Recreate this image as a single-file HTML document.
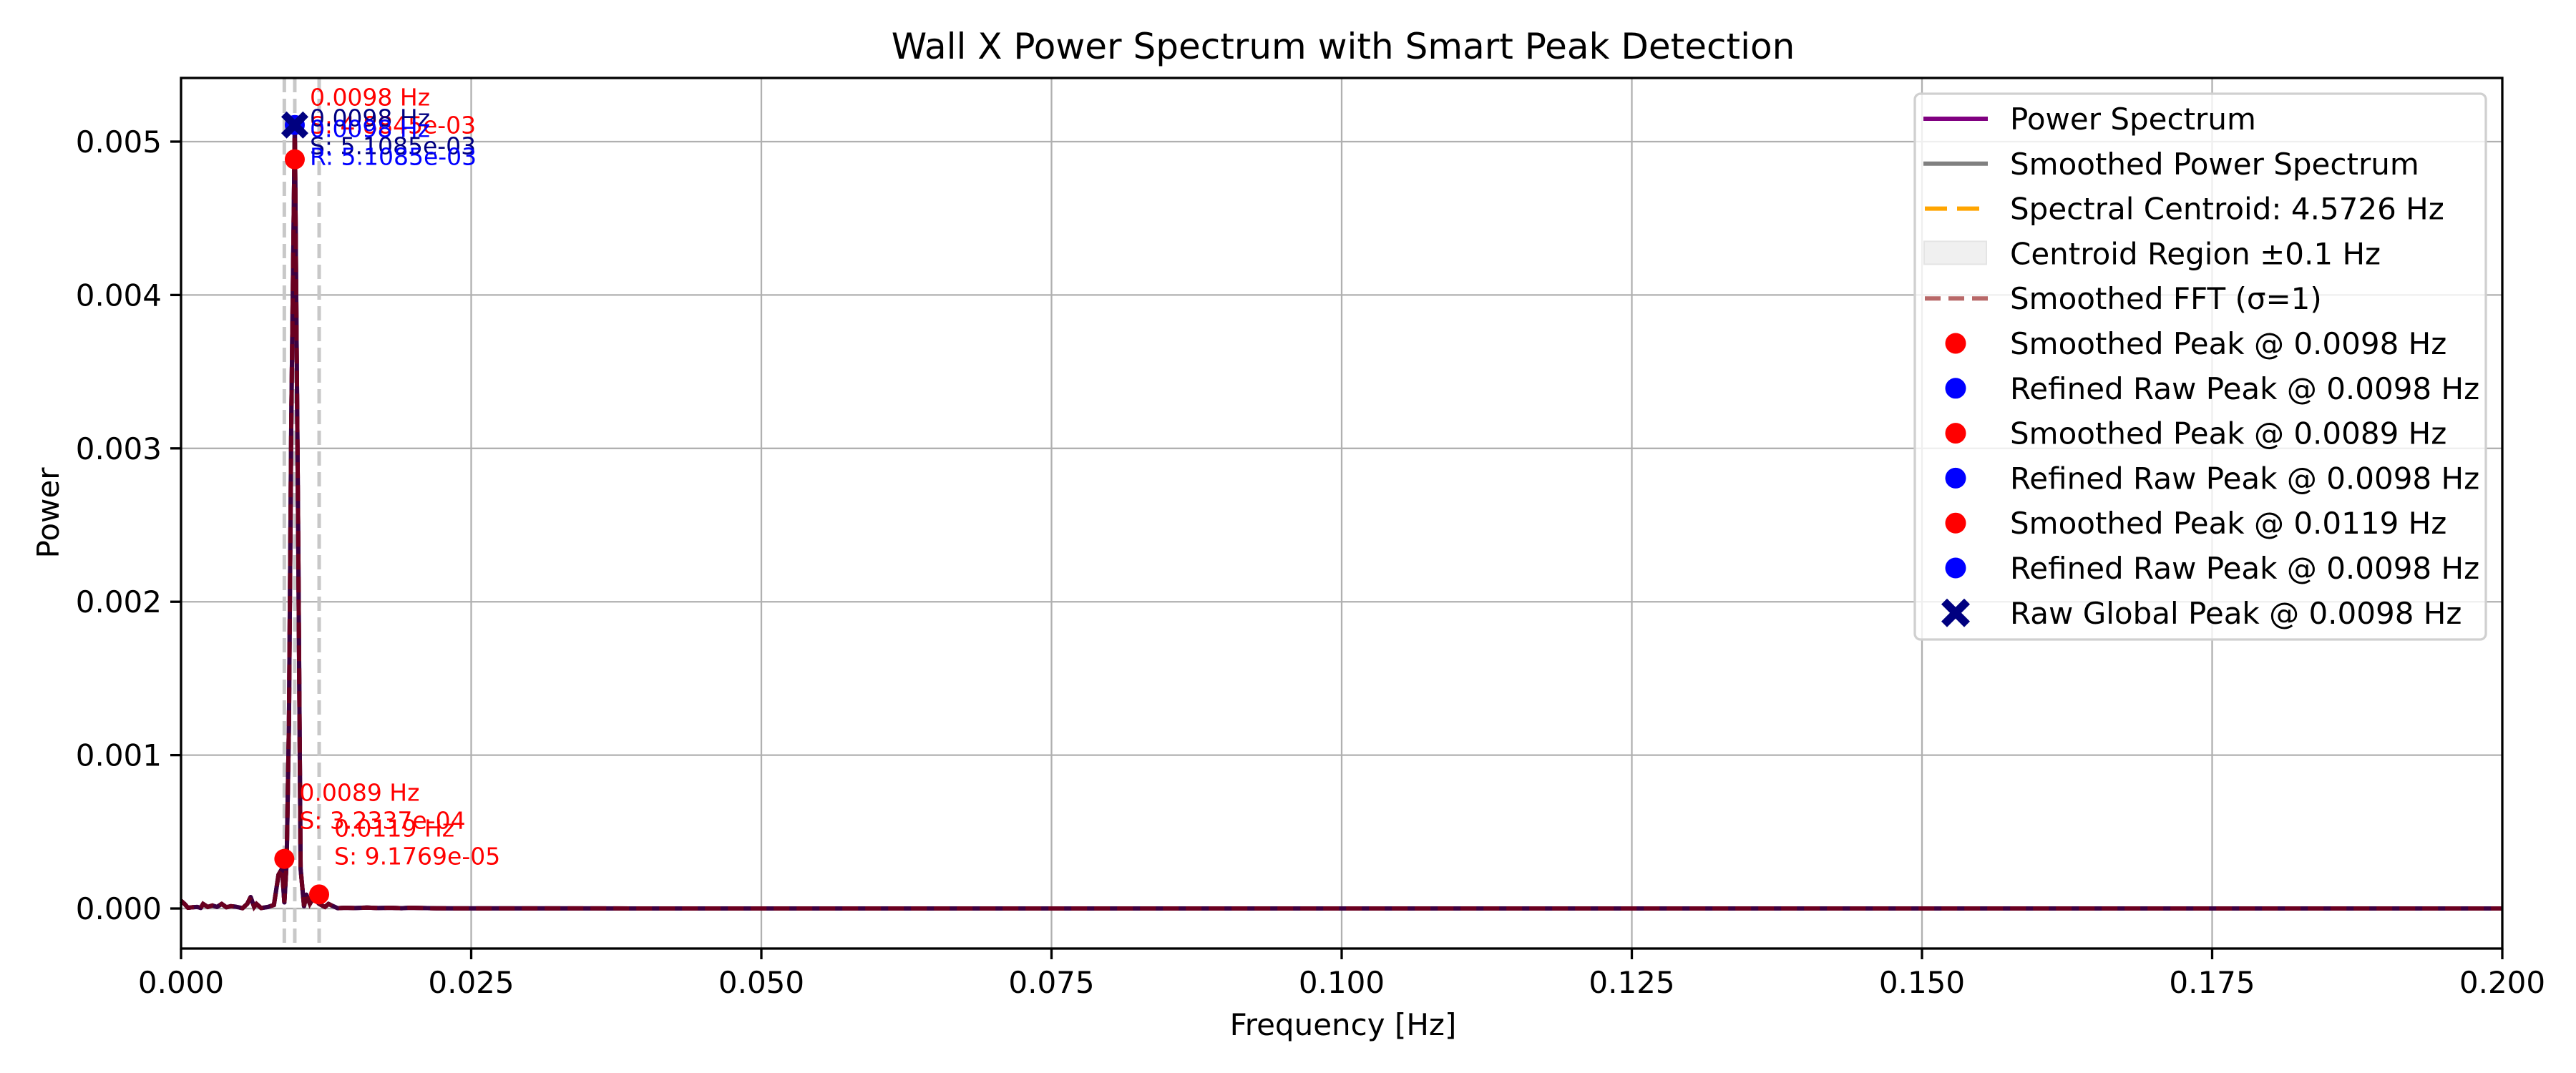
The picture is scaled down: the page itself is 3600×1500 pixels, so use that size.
<!DOCTYPE html>
<html><head><meta charset="utf-8"><style>
html,body{margin:0;padding:0;background:#fff;}
svg{display:block;font-family:"DejaVu Sans","Liberation Sans",sans-serif;}
</style></head><body>
<svg id="chart" width="3600" height="1500" viewBox="0 0 3600 1500" xmlns="http://www.w3.org/2000/svg">
<rect x="0" y="0" width="3600" height="1500" fill="#fff"/>
<text x="1877" y="82" text-anchor="middle" font-size="50" fill="#000">Wall X Power Spectrum with Smart Peak Detection</text>
<text x="1877" y="1447" text-anchor="middle" font-size="42" fill="#000">Frequency [Hz]</text>
<text x="0" y="0" transform="translate(82,717) rotate(-90)" text-anchor="middle" font-size="42" fill="#000">Power</text>
<g id="grid"></g>
<g id="plot"></g>
<g id="axes"></g>
<g id="legend"></g>
</svg>
<script>
// ---- data ----
const xTicks = [0, 0.025, 0.05, 0.075, 0.1, 0.125, 0.15, 0.175, 0.2];
const xTickLabels = ["0.000","0.025","0.050","0.075","0.100","0.125","0.150","0.175","0.200"];
const yTicks = [0, 0.001, 0.002, 0.003, 0.004, 0.005];
const yTickLabels = ["0.000","0.001","0.002","0.003","0.004","0.005"];
const specFreq = [0.0000,0.0003,0.0006,0.0010,0.0014,0.0017,0.0019,0.0023,0.0027,0.0031,0.0035,0.0039,0.0043,0.0047,0.0053,0.0057,0.0060,0.0063,0.0065,0.0069,0.0075,0.0080,0.0084,0.0087,0.0089,0.0091,0.0093,0.0095,0.0098,0.0101,0.0103,0.0106,0.0108,0.0111,0.0114,0.0119,0.0124,0.0127,0.0131,0.0135,0.0141,0.0150,0.0160,0.0170,0.0180,0.0190,0.0197,0.0220,0.0300,0.0500,0.1000,0.1500,0.2000];
const specPower = [5e-5,3e-5,5e-6,8e-6,1e-5,4e-6,3e-5,1e-5,2e-5,1e-5,3e-5,8e-6,1.5e-5,1.2e-5,2e-6,3e-5,7.5e-5,1e-5,3e-5,3e-6,1e-5,2.3e-5,2.2e-4,2.6e-4,4e-5,3e-4,1.2e-3,3.2e-3,5.1085e-3,2.4e-3,2.6e-4,1.5e-5,9e-5,3e-5,7e-5,3e-5,1e-5,3e-5,1.5e-5,2e-6,5e-6,3e-6,6e-6,3e-6,5e-6,2e-6,5e-6,1e-6,5e-7,3e-7,2e-7,1e-7,1e-7];
const peakLineFreqs = [0.0089, 0.0098, 0.0119];
const smoothPeakFreqs = [0.0098, 0.0089, 0.0119];
const smoothPeakVals = [4.8845e-3, 3.2337e-4, 9.1769e-5];
const rawPeakFreq = 0.0098;
const rawPeakVal = 5.1085e-3;
const legendLabels = ["Power Spectrum","Smoothed Power Spectrum","Spectral Centroid: 4.5726 Hz","Centroid Region \u00b10.1 Hz","Smoothed FFT (\u03c3=1)","Smoothed Peak @ 0.0098 Hz","Refined Raw Peak @ 0.0098 Hz","Smoothed Peak @ 0.0089 Hz","Refined Raw Peak @ 0.0098 Hz","Smoothed Peak @ 0.0119 Hz","Refined Raw Peak @ 0.0098 Hz","Raw Global Peak @ 0.0098 Hz"];

// ---- scales ----
const L=253,R=3497,T=109,B=1326;
const xMin=0,xMax=0.2,yMin=-0.000261,yMax=0.005415;
const sx=v=>L+(v-xMin)/(xMax-xMin)*(R-L);
const sy=v=>B-(v-yMin)/(yMax-yMin)*(B-T);
const NS="http://www.w3.org/2000/svg";
function mk(parent,tag,attrs,text){const e=document.createElementNS(NS,tag);for(const k in attrs)e.setAttribute(k,attrs[k]);if(text!==undefined)e.textContent=text;parent.appendChild(e);return e;}
const grid=document.getElementById('grid'),plot=document.getElementById('plot'),axes=document.getElementById('axes'),leg=document.getElementById('legend');

xTicks.forEach((t,i)=>{
  const g=mk(grid,'line',{x1:sx(t),x2:sx(t),y1:T,y2:B,stroke:'#b0b0b0','stroke-width':2.3});
  
  
  const tk=mk(axes,'line',{x1:sx(t),x2:sx(t),y1:B,y2:B+15,stroke:'#000','stroke-width':3.3});
  
  
  const lb=mk(axes,'text',{x:sx(t),y:B+62,'text-anchor':'middle','font-size':42,fill:'#000'},xTickLabels[i]);
  
  
});
yTicks.forEach((t,i)=>{
  const g=mk(grid,'line',{x1:L,x2:R,y1:sy(t),y2:sy(t),stroke:'#b0b0b0','stroke-width':2.3});
  
  
  const tk=mk(axes,'line',{x1:L-15,x2:L,y1:sy(t),y2:sy(t),stroke:'#000','stroke-width':3.3});
  
  
  const lb=mk(axes,'text',{x:L-27,y:sy(t)+15,'text-anchor':'end','font-size':42,fill:'#000'},yTickLabels[i]);
  
  
});
const frame=mk(axes,'rect',{x:L,y:T,width:R-L,height:B-T,fill:'none',stroke:'#000','stroke-width':3.3});



peakLineFreqs.forEach(f=>{
  const l=mk(plot,'line',{x1:sx(f),x2:sx(f),y1:T,y2:B,stroke:'#c8c8c8','stroke-width':5,'stroke-dasharray':'20 9'});
  
  
});
const pts=specFreq.map((f,i)=>sx(f).toFixed(1)+','+sy(specPower[i]).toFixed(1)).join(' ');
const raw=mk(plot,'polyline',{points:pts,fill:'none',stroke:'#800080','stroke-width':6,'stroke-linejoin':'round'});


const sm=mk(plot,'polyline',{points:pts,fill:'none',stroke:'#808080','stroke-opacity':0.55,'stroke-width':6,'stroke-linejoin':'round'});


const base=mk(plot,'polyline',{points:pts,fill:'none',stroke:'#3d0040','stroke-width':6,'stroke-linejoin':'round'});


const dash=mk(plot,'polyline',{points:pts,fill:'none',stroke:'#6a0020','stroke-width':6,'stroke-dasharray':'22 10'});



smoothPeakFreqs.forEach((f,i)=>{
  const c=mk(plot,'circle',{cx:sx(f),cy:sy(smoothPeakVals[i]),r:14,fill:'#ff0000'});
  
  
});
const rb=mk(plot,'circle',{cx:sx(rawPeakFreq),cy:sy(rawPeakVal),r:14,fill:'#0000ff'});


function xShape(cx,cy,s,parent){
  const a=s*0.5,w=s*0.2;
  const p=[[-a,-a+w],[-a+w,-a],[0,-w],[a-w,-a],[a,-a+w],[w,0],[a,a-w],[a-w,a],[0,w],[-a+w,a],[-a,a-w],[-w,0]].map(q=>(cx+q[0])+','+(cy+q[1])).join(' ');
  return mk(parent,'polygon',{points:p,fill:'#000080'});
}
const gx=xShape(sx(rawPeakFreq),sy(rawPeakVal),38,plot);



function ann(f,v,lines,color,dx,dy){
  const t=mk(plot,'text',{x:sx(f)+dx,y:sy(v)+dy,'font-size':33,fill:color});
  
  
  lines.forEach((s,k)=>{mk(t,'tspan',{x:sx(f)+dx,dy:k?39:0},s);});
}
ann(smoothPeakFreqs[0],smoothPeakVals[0],["0.0098 Hz","S: 4.8845e-03"],'#ff0000',21,-75);
ann(rawPeakFreq,rawPeakVal,["0.0098 Hz","S: 5.1085e-03"],'#000080',21,2);
ann(rawPeakFreq,rawPeakVal,["0.0098 Hz","R: 5.1085e-03"],'#0000ff',21,17);
ann(smoothPeakFreqs[1],smoothPeakVals[1],["0.0089 Hz","S: 3.2337e-04"],'#ff0000',21,-81);
ann(smoothPeakFreqs[2],smoothPeakVals[2],["0.0119 Hz","S: 9.1769e-05"],'#ff0000',21,-81);

const lbx=mk(leg,'rect',{x:2676,y:131,width:798,height:763,rx:8,fill:'#fff','fill-opacity':0.8,stroke:'#d0d0d0','stroke-width':3.3});


legendLabels.forEach((s,i)=>{
  const y=166+i*62.8;
  const g=mk(leg,'g',{});
  
  
  if(i===0) mk(g,'line',{x1:2688,x2:2778,y1:y,y2:y,stroke:'#800080','stroke-width':6});
  else if(i===1) mk(g,'line',{x1:2688,x2:2778,y1:y,y2:y,stroke:'#808080','stroke-width':6});
  else if(i===2) mk(g,'line',{x1:2690,x2:2778,y1:y,y2:y,stroke:'#ffa500','stroke-width':6,'stroke-dasharray':'31 14'});
  else if(i===3) mk(g,'rect',{x:2689,y:y-17,width:87,height:32,fill:'#f0f0f0',stroke:'#e4e4e4','stroke-width':2});
  else if(i===4) mk(g,'line',{x1:2690,x2:2778,y1:y,y2:y,stroke:'#b86868','stroke-width':6,'stroke-dasharray':'22 11'});
  else if(i===11) xShape(2733,y,40,g);
  else mk(g,'circle',{cx:2733,cy:y,r:14.5,fill:(i%2===1)?'#ff0000':'#0000ff'});
  mk(g,'text',{x:2809,y:y+15,'font-size':42,fill:'#000'},s);
});
</script>
</body></html>
